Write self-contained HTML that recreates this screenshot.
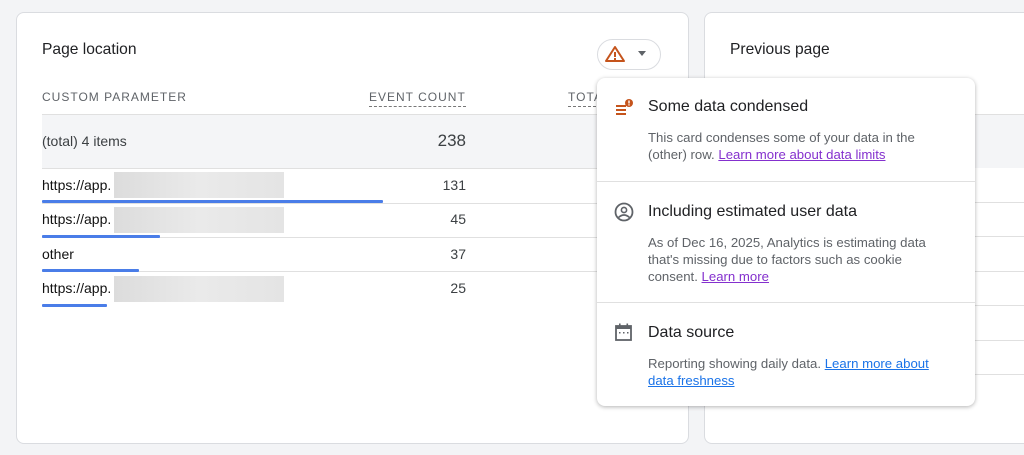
<!DOCTYPE html>
<html><head><style>
body{margin:0;width:1024px;height:455px;background:#f3f4f6;font-family:"Liberation Sans",sans-serif;position:relative;overflow:hidden;color:#202124}
.card{position:absolute;background:#fff;border:1px solid #dadce0;border-radius:8px;top:12px;height:430px}
.a{position:absolute;white-space:nowrap}
.ln{position:absolute;height:1px;background:#e0e0e0}
.bar{position:absolute;height:3px;background:#4a7de8;border-radius:1px}
.blur{position:absolute;background:linear-gradient(90deg,#dcdcdc,#eaeaea 50%,#e4e4e4);width:170px;height:26px}
.hd{font-size:12px;letter-spacing:1px;color:#5f6368}
.num{font-size:14px;color:#3c4043;text-align:right;width:60px}
.pt{font-size:16px;color:#202124}
.pb{font-size:13.2px;color:#5f6368;line-height:17px}
.lk{color:#8430ce;text-decoration:underline}
.lb{color:#1a73e8;text-decoration:underline}
.rw{font-size:14px;color:#111}
</style></head><body>
<div class="card" style="left:16px;width:671px"></div>
<div class="card" style="left:704px;width:330px"></div>
<div class="a" style="left:42px;top:41px;font-size:15.6px;color:#202124">Page location</div>
<div class="a hd" style="left:42px;top:90px">CUSTOM PARAMETER</div>
<div class="a hd" style="left:369px;top:90px;border-bottom:1px dashed #777;padding-bottom:2px">EVENT COUNT</div>
<div class="a hd" style="left:568px;top:90px;border-bottom:1px dashed #777;padding-bottom:2px">TOTAL</div>
<div class="ln" style="left:42px;top:114px;width:560px"></div>
<div class="a" style="left:42px;top:115px;width:560px;height:53px;background:#f4f5f7"></div>
<div class="a" style="left:42px;top:133px;font-size:14px;color:#3c4043">(total) 4 items</div>
<div class="a" style="left:406px;top:131px;font-size:17px;color:#3c4043;text-align:right;width:60px">238</div>
<div class="ln" style="left:42px;top:168px;width:560px"></div>
<div class="ln" style="left:42px;top:203px;width:560px"></div>
<div class="ln" style="left:42px;top:237px;width:560px"></div>
<div class="ln" style="left:42px;top:271px;width:560px"></div>
<div class="a rw" style="left:42px;top:177px">https://app.</div><div class="blur" style="left:114px;top:172px"></div>
<div class="a num" style="left:406px;top:177px">131</div><div class="bar" style="left:42px;top:200px;width:341px"></div>
<div class="a rw" style="left:42px;top:211px">https://app.</div><div class="blur" style="left:114px;top:207px"></div>
<div class="a num" style="left:406px;top:211px">45</div><div class="bar" style="left:42px;top:235px;width:118px"></div>
<div class="a rw" style="left:42px;top:246px">other</div>
<div class="a num" style="left:406px;top:246px">37</div><div class="bar" style="left:42px;top:269px;width:97px"></div>
<div class="a rw" style="left:42px;top:280px">https://app.</div><div class="blur" style="left:114px;top:276px"></div>
<div class="a num" style="left:406px;top:280px">25</div><div class="bar" style="left:42px;top:304px;width:65px"></div>
<div class="a" style="left:597px;top:39px;width:62px;height:29px;border:1px solid #dadce0;border-radius:16px;background:#fff"></div>
<svg class="a" style="left:604px;top:45px" width="22" height="18"><path d="M11 2 L20 16 L2 16 Z" fill="none" stroke="#c5541c" stroke-width="2" stroke-linejoin="round"/><rect x="10" y="7" width="2" height="5" fill="#c5541c"/><rect x="10" y="13" width="2" height="2" fill="#c5541c"/></svg>
<div class="a" style="left:638px;top:51px;width:0;height:0;border-left:4px solid transparent;border-right:4px solid transparent;border-top:5px solid #5f6368"></div>
<div class="a" style="left:730px;top:41px;font-size:15.6px">Previous page</div>
<div class="ln" style="left:704px;top:114px;width:320px"></div>
<div class="a" style="left:704px;top:115px;width:320px;height:53px;background:#f4f5f7"></div>
<div class="ln" style="left:704px;top:202px;width:320px"></div>
<div class="ln" style="left:704px;top:236px;width:320px"></div>
<div class="ln" style="left:704px;top:271px;width:320px"></div>
<div class="ln" style="left:704px;top:305px;width:320px"></div>
<div class="ln" style="left:704px;top:340px;width:320px"></div>
<div class="ln" style="left:704px;top:374px;width:320px"></div>
<div class="a" style="left:597px;top:78px;width:378px;height:328px;background:#fff;border-radius:8px;box-shadow:0 1px 4px rgba(0,0,0,.3)"></div>
<div class="ln" style="left:597px;top:181px;width:378px"></div>
<div class="ln" style="left:597px;top:302px;width:378px"></div>
<svg class="a" style="left:614px;top:98px" width="22" height="18"><rect x="2" y="7" width="10" height="2" fill="#c5541c"/><rect x="2" y="11" width="10" height="2" fill="#c5541c"/><rect x="2" y="15" width="10" height="2" fill="#c5541c"/><circle cx="15" cy="5" r="4" fill="#c5541c"/><rect x="14.3" y="2.5" width="1.4" height="3" fill="#fff"/><rect x="14.3" y="6.3" width="1.4" height="1.2" fill="#fff"/></svg>
<div class="a pt" style="left:648px;top:98px">Some data condensed</div>
<div class="a pb" style="left:648px;top:129px">This card condenses some of your data in the<br>(other) row. <span class="lk">Learn more about data limits</span></div>
<svg class="a" style="left:613px;top:201px" width="22" height="22"><circle cx="11" cy="11" r="8.5" fill="none" stroke="#5f6368" stroke-width="1.8"/><circle cx="11" cy="9" r="2.6" fill="none" stroke="#5f6368" stroke-width="1.6"/><path d="M5.5 16.5 Q11 11.5 16.5 16.5" fill="none" stroke="#5f6368" stroke-width="1.6"/></svg>
<div class="a pt" style="left:648px;top:203px">Including estimated user data</div>
<div class="a pb" style="left:648px;top:234px">As of Dec 16, 2025, Analytics is estimating data<br>that's missing due to factors such as cookie<br>consent. <span class="lk">Learn more</span></div>
<svg class="a" style="left:614px;top:323px" width="20" height="20"><rect x="2" y="3" width="15" height="14" fill="none" stroke="#5f6368" stroke-width="1.8"/><rect x="2" y="3" width="15" height="3" fill="#5f6368"/><rect x="5" y="0.5" width="1.6" height="3" fill="#5f6368"/><rect x="12.5" y="0.5" width="1.6" height="3" fill="#5f6368"/><rect x="5" y="9" width="1.5" height="1.5" fill="#5f6368"/><rect x="9" y="9" width="1.5" height="1.5" fill="#5f6368"/><rect x="13" y="9" width="1.5" height="1.5" fill="#5f6368"/></svg>
<div class="a pt" style="left:648px;top:324px">Data source</div>
<div class="a pb" style="left:648px;top:355px">Reporting showing daily data. <span class="lb">Learn more about</span><br><span class="lb">data freshness</span></div>
</body></html>
